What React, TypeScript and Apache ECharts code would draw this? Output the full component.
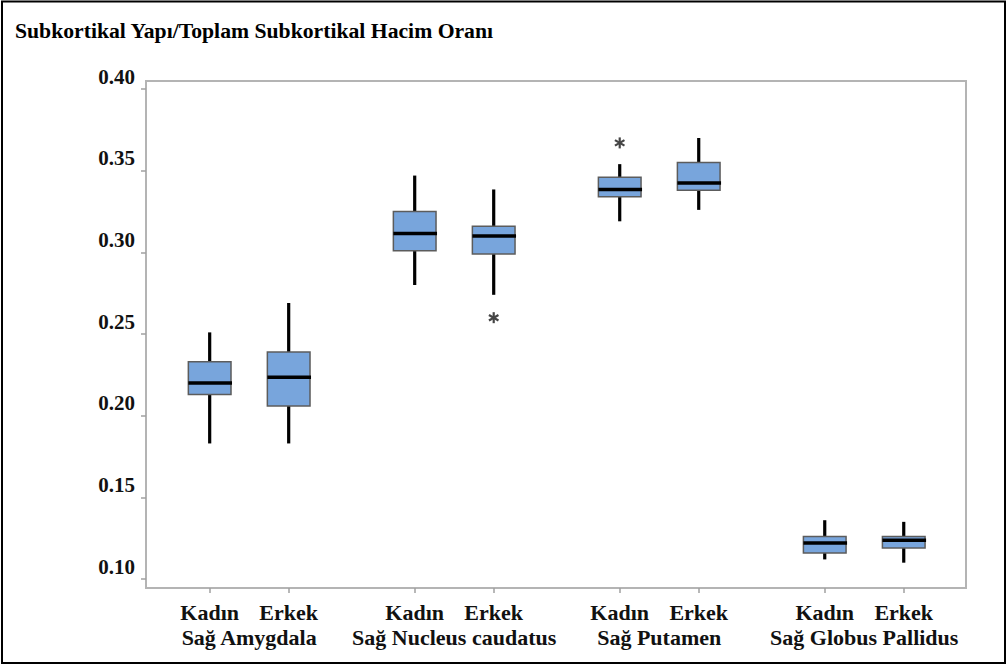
import React, { useEffect, useRef } from "react";
import * as echarts from "echarts";

// Regions and groups along the horizontal axis
const regions = ["Sağ Amygdala", "Sağ Nucleus caudatus", "Sağ Putamen", "Sağ Globus Pallidus"];
const sexes = ["Kadın", "Erkek"];

// Box summaries per region: [lower whisker, Q1, median, Q3, upper whisker]
const kadinBoxes = [
  [0.183, 0.213, 0.220, 0.233, 0.251],
  [0.280, 0.301, 0.3115, 0.325, 0.347],
  [0.319, 0.334, 0.3385, 0.346, 0.354],
  [0.112, 0.116, 0.122, 0.126, 0.136],
];
const erkekBoxes = [
  [0.183, 0.206, 0.2235, 0.239, 0.269],
  [0.274, 0.299, 0.310, 0.316, 0.3385],
  [0.326, 0.338, 0.3425, 0.355, 0.370],
  [0.110, 0.119, 0.1237, 0.126, 0.135],
];

// Outliers: region index, sex index (0 = Kadın, 1 = Erkek), value
const outlierRegion = [1, 2];
const outlierSex = [1, 0];
const outlierValue = [0.260, 0.367];

// Y axis tick values
const yTicks = [0.10, 0.15, 0.20, 0.25, 0.30, 0.35, 0.40];

// Layout along the x value axis
const REGION_STEP = 2.595;
const BOX_W = 0.54;
const xPos = (r: number, s: number) => r * REGION_STEP + s;

const FONT = "'Liberation Serif', 'Times New Roman', serif";

export default function App() {
  const ref = useRef<HTMLDivElement>(null);

  useEffect(() => {
    if (!ref.current) return;
    const chart = echarts.init(ref.current, null, { renderer: "svg" });

    const boxData: number[][] = [];
    regions.forEach((_, r) => {
      boxData.push([xPos(r, 0), ...kadinBoxes[r]]);
      boxData.push([xPos(r, 1), ...erkekBoxes[r]]);
    });
    const outlierData = outlierValue.map((v, i) => [xPos(outlierRegion[i], outlierSex[i]), v]);

    const sexTickValues: number[] = [];
    const sexTickNames: string[] = [];
    regions.forEach((_, r) => {
      sexes.forEach((name, s) => {
        sexTickValues.push(xPos(r, s));
        sexTickNames.push(name);
      });
    });
    const regionMid = regions.map((_, r) => xPos(r, 0.5));

    const nearest = (vals: number[], v: number) => {
      let best = 0;
      vals.forEach((p, i) => {
        if (Math.abs(p - v) < Math.abs(vals[best] - v)) best = i;
      });
      return best;
    };

    const labelStyle = {
      fontFamily: FONT,
      fontWeight: "bold" as const,
      color: "#111",
    };

    chart.setOption({
      animation: false,
      backgroundColor: "#fff",
      title: {
        text: "Subkortikal Yapı/Toplam Subkortikal Hacim Oranı",
        left: 10,
        top: 15,
        textStyle: { ...labelStyle, fontSize: 21.7, color: "#000" },
      },
      graphic: [
        {
          type: "rect",
          shape: { x: 2, y: 1.5, width: 1003, height: 661.5 },
          style: { fill: "none", stroke: "#000", lineWidth: 2 },
          silent: true,
        },
      ],
      grid: {
        left: 146,
        right: 41,
        top: 81,
        bottom: 78,
        show: true,
        borderColor: "#b4b4b4",
        borderWidth: 2,
        backgroundColor: "transparent",
      },
      xAxis: [
        {
          type: "value",
          min: -0.806,
          max: 9.573,
          position: "bottom",
          splitLine: { show: false },
          axisLine: { show: false, onZero: false },
          axisTick: {
            show: true,
            customValues: sexTickValues,
            length: 5,
            lineStyle: { color: "#a0a0a0", width: 1.5 },
          },
          axisLabel: {
            customValues: sexTickValues,
            formatter: (v: number) => sexTickNames[nearest(sexTickValues, v)],
            ...labelStyle,
            fontSize: 22,
            lineHeight: 22,
            margin: 13,
          },
        },
        {
          type: "value",
          min: -0.806,
          max: 9.573,
          position: "bottom",
          splitLine: { show: false },
          axisLine: { show: false, onZero: false },
          axisTick: { show: false },
          axisLabel: {
            customValues: regionMid,
            formatter: (v: number) => regions[nearest(regionMid, v)],
            ...labelStyle,
            fontSize: 22,
            lineHeight: 22,
            margin: 38,
          },
        },
      ],
      yAxis: {
        type: "value",
        min: 0.0945,
        max: 0.4049,
        position: "left",
        splitLine: { show: false },
        axisLine: { show: false, onZero: false },
        axisTick: {
          show: true,
          customValues: yTicks,
          length: 5,
          lineStyle: { color: "#a0a0a0", width: 1.5 },
        },
        axisLabel: {
          customValues: yTicks,
          formatter: (v: number) => v.toFixed(2),
          ...labelStyle,
          fontSize: 21,
          lineHeight: 21,
          margin: 11,
          verticalAlign: "bottom",
          padding: [0, 0, 2, 0],
        },
      },
      series: [
        {
          type: "custom",
          xAxisIndex: 0,
          yAxisIndex: 0,
          data: boxData,
          renderItem: (_params: any, api: any) => {
            const x = api.value(0);
            const lo = api.coord([x, api.value(1)]);
            const q1 = api.coord([x, api.value(2)]);
            const med = api.coord([x, api.value(3)]);
            const q3 = api.coord([x, api.value(4)]);
            const hi = api.coord([x, api.value(5)]);
            const w = api.size([BOX_W, 0])[0];
            const cx = lo[0];
            const whisker = { stroke: "#000", lineWidth: 3.2 };
            return {
              type: "group",
              children: [
                {
                  type: "line",
                  shape: { x1: cx, y1: hi[1], x2: cx, y2: q3[1] },
                  style: whisker,
                },
                {
                  type: "line",
                  shape: { x1: cx, y1: q1[1], x2: cx, y2: lo[1] },
                  style: whisker,
                },
                {
                  type: "rect",
                  shape: { x: cx - w / 2, y: q3[1], width: w, height: q1[1] - q3[1] },
                  style: { fill: "#78a5dc", stroke: "#5c5c5c", lineWidth: 1.5 },
                },
                {
                  type: "line",
                  shape: { x1: cx - w / 2, y1: med[1], x2: cx + w / 2 + 1, y2: med[1] },
                  style: { stroke: "#000", lineWidth: 3.5 },
                },
              ],
            };
          },
        },
        {
          type: "custom",
          xAxisIndex: 0,
          yAxisIndex: 0,
          data: outlierData,
          renderItem: (_params: any, api: any) => {
            const p = api.coord([api.value(0), api.value(1)]);
            const r = 5.5;
            const style = { stroke: "#454545", lineWidth: 2.2 };
            const arms = [90, 30, -30].map((deg) => {
              const a = (deg * Math.PI) / 180;
              const dx = r * Math.cos(a);
              const dy = r * Math.sin(a);
              return {
                type: "line",
                shape: { x1: p[0] - dx, y1: p[1] - dy, x2: p[0] + dx, y2: p[1] + dy },
                style,
              };
            });
            return { type: "group", children: arms };
          },
        },
      ],
    });

    return () => chart.dispose();
  }, []);

  return (
    <div
      ref={ref}
      style={{ position: "absolute", left: 0, top: 0, width: 1007, height: 666 }}
    />
  );
}
